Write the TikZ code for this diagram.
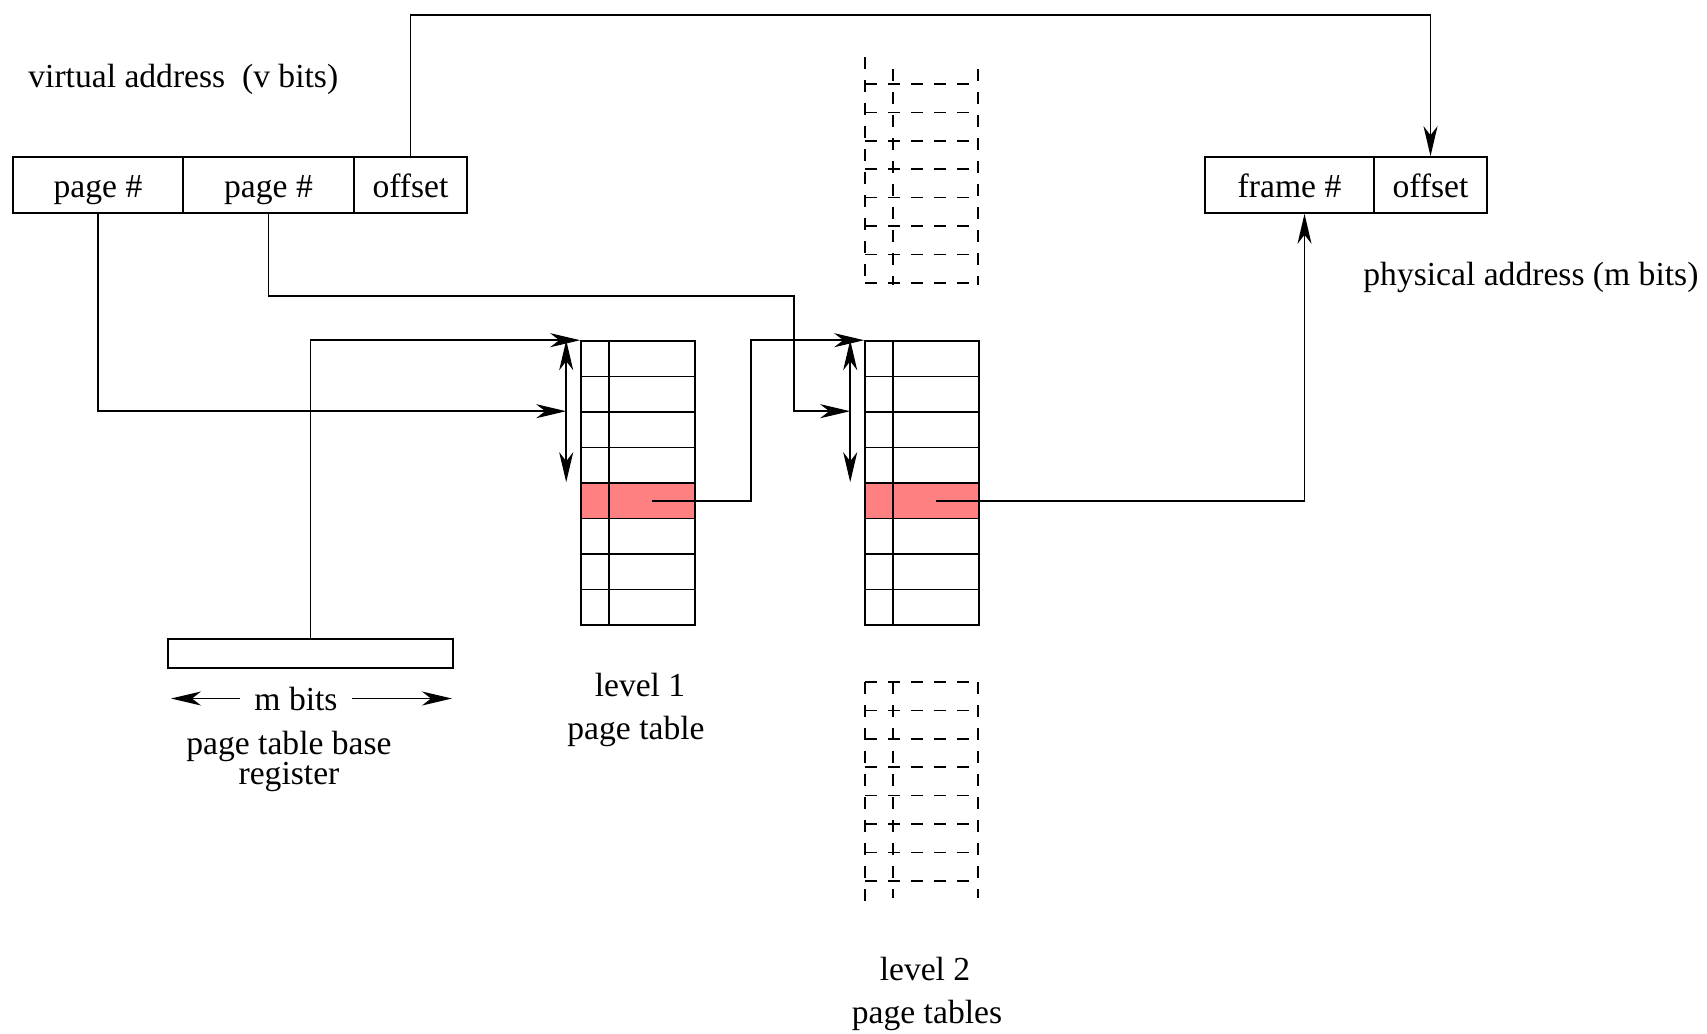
\documentclass[tikz,border=0pt]{standalone}
\usepackage{fontspec}
\setmainfont{Liberation Serif}
\usetikzlibrary{arrows.meta}
\definecolor{hlred}{HTML}{FF8080}
\begin{document}
\begin{tikzpicture}[x=0.5pt,y=-0.5pt,
  every node/.style={font=\fontsize{16.8}{20}\selectfont},
  arr/.style={line width=0.8pt, -{Stealth[length=15pt,width=7pt,inset=4.5pt]}},
  darr/.style={line width=0.8pt, {Stealth[length=15pt,width=7pt,inset=4.5pt]}-{Stealth[length=15pt,width=7pt,inset=4.5pt]}},
  field/.style={draw, line width=0.8pt, minimum height=28pt, inner sep=0pt, text height=1.25em, text depth=0pt},
  kcell/.style={draw, line width=0.8pt, minimum width=14pt, minimum height=17.75pt, inner sep=0pt},
  vcell/.style={draw, line width=0.8pt, minimum width=43pt, minimum height=17.75pt, inner sep=0pt},
  dashline/.style={line width=0.8pt, dash pattern=on 6pt off 5.5pt},
  lbl/.style={anchor=base, inner sep=0pt}
]
\fill[white] (0,0) rectangle (1707,1033);
\useasboundingbox (0,0) rectangle (1707,1033);

% virtual address
\node[field, minimum width=85pt] (va1) at (98,185) {page \#};
\node[field, minimum width=85.5pt] (va2) at (268.5,185) {page \#};
\node[field, minimum width=56.5pt] (va3) at (410.5,185) {offset};
\node[lbl, anchor=base west] (vlabel) at (28,87) {virtual address~~(v bits)};

% physical address
\node[field, minimum width=84.5pt] (pa1) at (1289.5,185) {frame \#};
\node[field, minimum width=56.5pt] (pa2) at (1430.5,185) {offset};
\node[lbl, anchor=base west] (plabel) at (1363,285) {physical address (m bits)};

% level 1 and level 2 tables
\foreach \i in {1,2,3,4,6,7,8} {
  \node[kcell] (l1k\i) at (595,{341+35.5*(\i-0.5)}) {};
  \node[vcell] (l1v\i) at (652,{341+35.5*(\i-0.5)}) {};
  \node[kcell] (l2k\i) at (879,{341+35.5*(\i-0.5)}) {};
  \node[vcell] (l2v\i) at (936,{341+35.5*(\i-0.5)}) {};
}
\node[kcell, fill=hlred] (l1k5) at (595,{341+35.5*4.5}) {};
\node[vcell, fill=hlred] (l1v5) at (652,{341+35.5*4.5}) {};
\node[kcell, fill=hlred] (l2k5) at (879,{341+35.5*4.5}) {};
\node[vcell, fill=hlred] (l2v5) at (936,{341+35.5*4.5}) {};

\node[lbl] (l1lab1) at (640,696) {level 1};
\node[lbl] (l1lab2) at (636,739) {page table};
\node[lbl] (l2lab1) at (925,980) {level 2};
\node[lbl] (l2lab2) at (927,1023) {page tables};

% index ranges
\draw[darr] ([xshift=-7pt]l1k1.north west) -- ([xshift=-7pt]l1k5.north west);
\draw[darr] ([xshift=-7pt]l2k1.north west) -- ([xshift=-7pt]l2k5.north west);

% dashed (other) level 2 tables
\foreach \k in {0,...,7} {
  \draw[dashline] (865,{84+28.4*\k}) -- (978,{84+28.4*\k});
  \draw[dashline] (865,{682+28.4*\k}) -- (978,{682+28.4*\k});
}
\draw[dashline] (865,57) -- (865,285);
\draw[dashline] (893,69) -- (893,285);
\draw[dashline] (978,69) -- (978,285);
\draw[dashline] (865,682) -- (865,908);
\draw[dashline] (893,682) -- (893,898);
\draw[dashline] (978,682) -- (978,898);

% page table base register
\node[draw, line width=1.4pt, minimum width=142.5pt, minimum height=14.5pt, inner sep=0pt] (ptbr) at (310.5,653.5) {};
\node[lbl, inner xsep=7pt] (mbits) at (296,710) {m bits};
\coordinate (mL) at (171,697);
\coordinate (mR) at (452,697);
\draw[arr] (mbits.west) -- (mbits.west -| mL);
\draw[arr] (mbits.east) -- (mbits.east -| mR);
\node[inner sep=0pt, align=center, font=\fontsize{16.8}{15}\selectfont] (ptlab) at (289,761) {page table base\\register};

% connectors
\coordinate (top) at (900,15);
\draw[arr] (va3.north) |- (top) -| (pa2.north);
\draw[arr] (va1.south) |- ([xshift=-7pt]l1k3.north west);
\coordinate (b2) at (794,296);
\draw[arr] (va2.south) |- (b2) |- ([xshift=-7pt]l2k3.north west);
\draw[arr] (ptbr.north) |- (l1k1.north west);
\coordinate (c1) at (751,341);
\draw[arr] (l1v5.center) -| (c1) |- (l2k1.north west);
\draw[arr] (l2v5.center) -| ([xshift=7.5pt]pa1.south);
\end{tikzpicture}
\end{document}
